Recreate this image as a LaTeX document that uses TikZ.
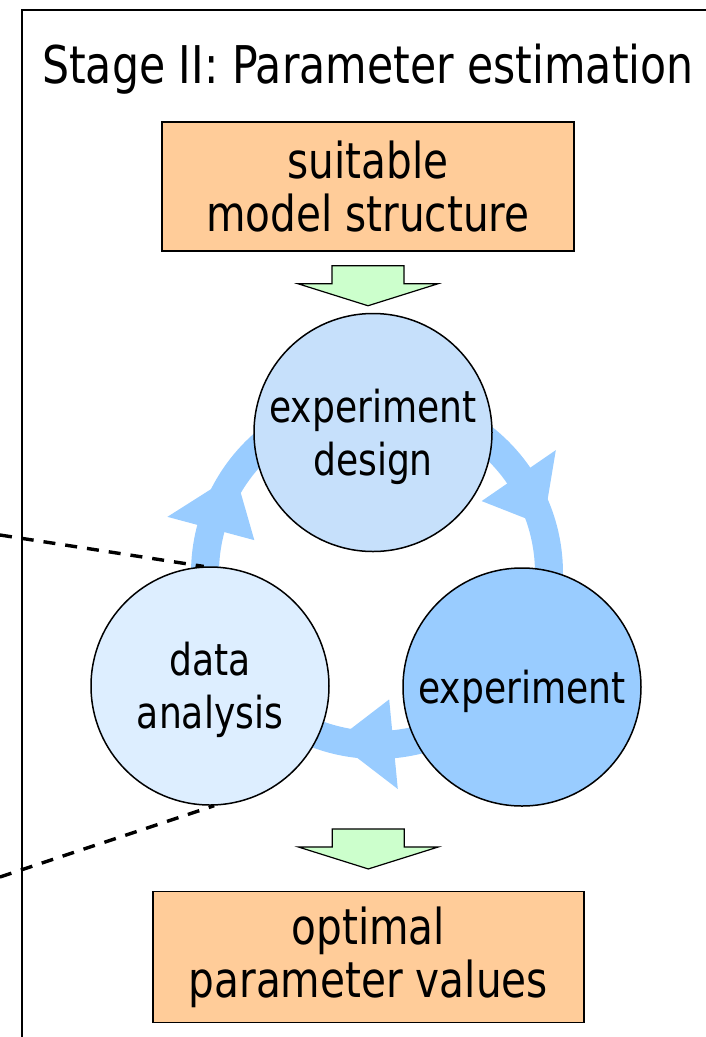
\documentclass[tikz,border=0pt]{standalone}
\usepackage{fontspec}
\setmainfont[FakeStretch=0.82]{DejaVu Sans}
\usepackage{tikz}

\definecolor{boxorange}{RGB}{255,204,153}
\definecolor{arrowgreen}{RGB}{204,255,204}
\definecolor{designblue}{RGB}{198,224,251}
\definecolor{expblue}{RGB}{153,204,255}
\definecolor{anablue}{RGB}{221,238,255}
\newcommand{\toplift}{\rule{0pt}{42pt}}

\begin{document}
\begin{tikzpicture}[x=1pt,y=1pt,
    stagebox/.style={draw, line width=1.5pt, fill=boxorange, minimum width=412pt,
        minimum height=129pt, inner sep=0pt, align=center, font=\fontsize{49.5}{53.5}\selectfont},
    stagecircle/.style={circle, draw, line width=1.5pt, minimum size=238pt, inner sep=0pt,
        align=center, font=\fontsize{44}{53}\selectfont},
    cyclearrow/.style={draw=expblue, line width=28pt},
    cyclehead/.style={fill=expblue},
    blockarrow/.style={draw, line width=1.2pt, fill=arrowgreen, line join=miter},
    linkline/.style={line width=3.4pt, dash pattern=on 12pt off 10pt}]
\useasboundingbox (0,0) rectangle (706,-1037);

% frame of stage II
\draw[line width=2pt] (22,-1045) -- (22,-10) -- (715,-10);
\node[anchor=base west, inner sep=0pt, font=\fontsize{52}{60}\selectfont] (title) at (42,-83) {Stage II: Parameter estimation};

% the cycle, under the circles
\coordinate (C) at (377,-573);
\draw[cyclearrow] ([shift={(185:172)}]C) arc[start angle=185, end angle=130, radius=172];
\draw[cyclearrow] ([shift={(52:172)}]C) arc[start angle=52, end angle=-5, radius=172];
\draw[cyclearrow] ([shift={(-75:172)}]C) arc[start angle=-75, end angle=-112, radius=172];
\fill[cyclehead, shift={(C)}] (165:127) -- (145:173) -- (165:217) -- cycle;
\fill[cyclehead, shift={(C)}] (34.5:127) -- (16:173) -- (34.5:217) -- cycle;
\fill[cyclehead, shift={(C)}] (-84.5:127) -- (-104:173) -- (-84.5:217) -- cycle;

\node[stagecircle, fill=designblue] (des) at (373,-432.5) {\toplift experiment\\design};
\node[stagecircle, fill=expblue] (exp) at (522,-687) {\toplift experiment};
\node[stagecircle, fill=anablue] (ana) at (210,-686) {\toplift data\\analysis};

\node[stagebox] (sms) at (368,-186.5) {suitable\\model structure};
\node[stagebox, minimum width=431pt, minimum height=131pt] (opv) at (368.3,-957.2) {optimal\\parameter values};

% block arrows in and out
\draw[blockarrow] ([yshift=-14]sms.south) ++(-36,0) -- ++(0,-18) -- ++(-34,0) -- ++(70,-22)
    -- ++(70,22) -- ++(-34,0) -- ++(0,18) -- cycle;
\draw[blockarrow] ([yshift=62]opv.north) ++(-36,0) -- ++(0,-18) -- ++(-34,0) -- ++(70,-22)
    -- ++(70,22) -- ++(-34,0) -- ++(0,18) -- cycle;

% links to the left
\coordinate (linkA) at (0,-535);
\coordinate (linkB) at (0,-877);
\draw[linkline] (linkA) -- (ana.93);
\draw[linkline] (linkB) -- (ana.-88);
\end{tikzpicture}
\end{document}
